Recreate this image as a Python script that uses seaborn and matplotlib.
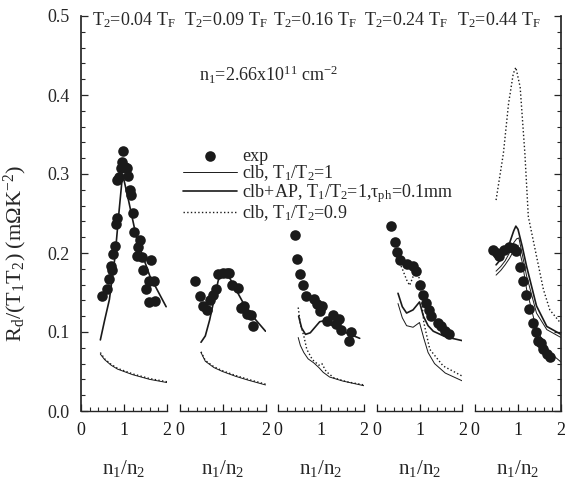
import numpy as np
import pandas as pd
import seaborn as sns
import matplotlib.pyplot as plt
from matplotlib.ticker import MultipleLocator

sns.set_theme(style="ticks")
plt.rcParams['font.family'] = ['Liberation Serif', 'DejaVu Serif']
plt.rcParams['mathtext.fontset'] = 'custom'
plt.rcParams['mathtext.rm'] = 'Liberation Serif'
plt.rcParams['mathtext.it'] = 'Liberation Serif:italic'
plt.rcParams['mathtext.default'] = 'regular'

# panel headers
temps = ["0.04", "0.09", "0.16", "0.24", "0.44"]

# experimental points, one pair of arrays per panel
exp_x1 = [0.48, 0.60, 0.66, 0.71, 0.70, 0.74, 0.79, 0.81, 0.84, 0.84, 0.89, 0.93, 0.95, 0.98, 1.02, 1.06,
          1.10, 1.14, 1.16, 1.20, 1.23, 1.37, 1.33, 1.30, 1.41, 1.62, 1.45, 1.57, 1.70, 1.51, 1.57, 1.72]
exp_y1 = [0.146, 0.154, 0.167, 0.179, 0.183, 0.199, 0.209, 0.237, 0.244, 0.292, 0.296, 0.307, 0.315, 0.329,
          0.309, 0.307, 0.298, 0.280, 0.274, 0.251, 0.226, 0.217, 0.208, 0.196, 0.195, 0.191, 0.178, 0.165,
          0.164, 0.154, 0.138, 0.139]
exp_x2 = [0.35, 0.47, 0.54, 0.64, 0.72, 0.77, 0.85, 0.90, 1.00, 1.10, 1.16, 1.23, 1.36, 1.43, 1.50, 1.58, 1.67, 1.72]
exp_y2 = [0.164, 0.145, 0.133, 0.128, 0.141, 0.147, 0.154, 0.174, 0.175, 0.175, 0.175, 0.160, 0.156, 0.131,
          0.133, 0.123, 0.122, 0.107]
exp_x3 = [0.39, 0.45, 0.52, 0.58, 0.65, 0.83, 0.90, 1.02, 0.98, 1.13, 1.27, 1.36, 1.43, 1.47, 1.70, 1.66]
exp_y3 = [0.223, 0.192, 0.174, 0.159, 0.146, 0.142, 0.136, 0.133, 0.126, 0.114, 0.121, 0.110, 0.116, 0.103,
          0.100, 0.089]
exp_x4 = [0.34, 0.42, 0.48, 0.55, 0.72, 0.84, 0.92, 1.01, 1.07, 1.15, 1.23, 1.26, 1.44, 1.49, 1.59, 1.69]
exp_y4 = [0.234, 0.214, 0.201, 0.191, 0.186, 0.184, 0.177, 0.160, 0.147, 0.137, 0.128, 0.120, 0.111, 0.107,
          0.101, 0.097]
exp_x5 = [0.41, 0.50, 0.56, 0.67, 0.79, 0.89, 0.95, 1.05, 1.11, 1.19, 1.26, 1.34, 1.42, 1.47, 1.53, 1.59, 1.67, 1.74]
exp_y5 = [0.204, 0.200, 0.196, 0.204, 0.207, 0.206, 0.203, 0.182, 0.164, 0.147, 0.129, 0.112, 0.100, 0.089,
          0.086, 0.078, 0.072, 0.068]

# clb+AP, T1/T2=1 (thick solid)
ap_x1 = [0.45, 0.55, 0.66, 0.79, 0.88, 0.95, 0.98, 1.03, 1.10, 1.30, 1.60, 1.98]
ap_y1 = [0.090, 0.115, 0.141, 0.195, 0.250, 0.290, 0.297, 0.285, 0.268, 0.217, 0.171, 0.132]
ap_x2 = [0.5, 0.6, 0.7, 0.8, 0.9, 1.0, 1.1, 1.3, 1.5, 1.7, 2.0]
ap_y2 = [0.087, 0.095, 0.115, 0.140, 0.165, 0.178, 0.175, 0.155, 0.135, 0.120, 0.101]
ap_x3 = [0.48, 0.55, 0.64, 0.75, 0.86, 0.97, 1.05, 1.2, 1.5, 1.9]
ap_y3 = [0.120, 0.105, 0.097, 0.099, 0.106, 0.113, 0.114, 0.110, 0.101, 0.092]
ap_x4 = [0.5, 0.6, 0.7, 0.85, 1.0, 1.09, 1.2, 1.32, 1.6, 2.0]
ap_y4 = [0.149, 0.132, 0.124, 0.128, 0.138, 0.120, 0.108, 0.101, 0.094, 0.089]
ap_x5 = [0.49, 0.6, 0.7, 0.8, 0.9, 0.95, 1.0, 1.1, 1.2, 1.43, 1.67, 2.0]
ap_y5 = [0.185, 0.192, 0.200, 0.212, 0.228, 0.234, 0.230, 0.208, 0.183, 0.133, 0.107, 0.097]

# clb, T1/T2=1 (thin solid)
clb_x1 = [0.45, 0.55, 0.7, 0.85, 1.0, 1.2, 1.4, 1.6, 1.8, 2.0]
clb_y1 = [0.072, 0.065, 0.058, 0.053, 0.050, 0.046, 0.043, 0.040, 0.038, 0.036]
clb_x2 = [0.5, 0.6, 0.8, 1.0, 1.3, 1.6, 2.0]
clb_y2 = [0.074, 0.063, 0.055, 0.050, 0.044, 0.039, 0.033]
clb_x3 = [0.47, 0.52, 0.6, 0.7, 0.83, 0.95, 1.05, 1.2, 1.5, 2.0]
clb_y3 = [0.093, 0.083, 0.074, 0.066, 0.061, 0.055, 0.049, 0.043, 0.038, 0.032]
clb_x4 = [0.5, 0.6, 0.7, 0.85, 1.0, 1.1, 1.2, 1.35, 1.6, 2.0]
clb_y4 = [0.136, 0.118, 0.108, 0.106, 0.112, 0.092, 0.074, 0.060, 0.048, 0.038]
clb_x5 = [0.49, 0.6, 0.7, 0.8, 0.9, 0.97, 1.02, 1.1, 1.2, 1.43, 1.67, 2.0]
clb_y5 = [0.177, 0.183, 0.190, 0.200, 0.213, 0.218, 0.219, 0.198, 0.171, 0.124, 0.103, 0.093]
# extra solid curve in the last panel
alt_x5 = [0.49, 0.6, 0.7, 0.8, 0.9, 1.0, 1.1, 1.2, 1.43, 1.74, 2.0]
alt_y5 = [0.172, 0.178, 0.185, 0.193, 0.203, 0.210, 0.188, 0.154, 0.103, 0.074, 0.062]

# clb, T1/T2=0.9 (dotted)
c09_x1 = [0.45, 0.55, 0.7, 0.85, 1.0, 1.2, 1.4, 1.6, 1.8, 2.0]
c09_y1 = [0.074, 0.066, 0.059, 0.054, 0.051, 0.047, 0.044, 0.041, 0.039, 0.037]
c09_x2 = [0.5, 0.6, 0.8, 1.0, 1.3, 1.6, 2.0]
c09_y2 = [0.075, 0.064, 0.056, 0.051, 0.045, 0.040, 0.034]
c09_x3 = [0.47, 0.52, 0.60, 0.67, 0.8, 0.95, 1.02, 1.12, 1.3, 1.6, 2.0]
c09_y3 = [0.131, 0.110, 0.095, 0.078, 0.065, 0.058, 0.060, 0.050, 0.042, 0.037, 0.033]
c09_x4 = [0.5, 0.6, 0.7, 0.77, 0.85, 0.95, 1.02, 1.10, 1.24, 1.55, 2.0]
c09_y4 = [0.192, 0.180, 0.166, 0.159, 0.170, 0.180, 0.160, 0.112, 0.078, 0.057, 0.044]
c09_x5 = [0.49, 0.66, 0.78, 0.89, 0.95, 1.05, 1.16, 1.24, 1.40, 1.59, 1.74, 1.98]
c09_y5 = [0.267, 0.326, 0.389, 0.427, 0.435, 0.410, 0.326, 0.246, 0.204, 0.154, 0.128, 0.112]

exps = [(exp_x1, exp_y1), (exp_x2, exp_y2), (exp_x3, exp_y3), (exp_x4, exp_y4), (exp_x5, exp_y5)]
aps = [(ap_x1, ap_y1), (ap_x2, ap_y2), (ap_x3, ap_y3), (ap_x4, ap_y4), (ap_x5, ap_y5)]
clbs = [(clb_x1, clb_y1), (clb_x2, clb_y2), (clb_x3, clb_y3), (clb_x4, clb_y4), (clb_x5, clb_y5)]
c09s = [(c09_x1, c09_y1), (c09_x2, c09_y2), (c09_x3, c09_y3), (c09_x4, c09_y4), (c09_x5, c09_y5)]

FS = 13
W, H = 566, 478
fig = plt.figure(figsize=(W / 100, H / 100), dpi=100)
fig.patch.set_facecolor('white')

axes = []
for i in range(5):
    left = (81 + i * 98.5) / W
    ax = fig.add_axes([left, (H - 411) / H, 86 / W, 395 / H])
    ax.set_facecolor('white')
    axes.append(ax)

handles = {}
for i, ax in enumerate(axes):
    sns.lineplot(x=clbs[i][0], y=clbs[i][1], ax=ax, color='k', lw=0.7, sort=False, estimator=None)
    handles['clb'] = ax.lines[-1]
    sns.lineplot(x=aps[i][0], y=aps[i][1], ax=ax, color='k', lw=1.2, sort=False, estimator=None)
    handles['ap'] = ax.lines[-1]
    sns.lineplot(x=c09s[i][0], y=c09s[i][1], ax=ax, color='k', lw=1.0, linestyle=':',
                 sort=False, estimator=None)
    handles['c09'] = ax.lines[-1]
    if i == 4:
        sns.lineplot(x=alt_x5, y=alt_y5, ax=ax, color='k', lw=0.7, sort=False, estimator=None)
    sns.scatterplot(x=exps[i][0], y=exps[i][1], ax=ax, color='k', s=58, linewidth=0, zorder=3)
    if i == 0:
        handles['exp'] = ax.collections[-1]

    ax.set_xlim(0, 2)
    ax.set_ylim(0, 0.5)
    ax.xaxis.set_major_locator(MultipleLocator(1))
    ax.xaxis.set_minor_locator(MultipleLocator(0.2))
    ax.yaxis.set_major_locator(MultipleLocator(0.1))
    ax.yaxis.set_minor_locator(MultipleLocator(0.02))
    for s in ['top', 'left', 'right']:
        ax.spines[s].set_visible(False)
    ax.spines['bottom'].set_linewidth(1.0)
    ax.tick_params(axis='x', which='major', direction='in', length=5, width=0.9, pad=8,
                   labelsize=FS, colors='k')
    ax.tick_params(axis='x', which='minor', direction='in', length=3, width=0.8)
    ax.set_xticks([0, 1, 2])
    ax.set_xticklabels(['0', '1', '2'])
    ax.set_xlabel(r'n$_1$/n$_2$', fontsize=15)
    ax.xaxis.set_label_coords(0.5, -0.145)
    ax.xaxis.label.set_va('center')
    if i == 0:
        ax.spines['left'].set_visible(True)
        ax.tick_params(axis='y', which='major', direction='in', length=5, width=0.9, pad=8,
                       labelsize=FS, left=True, right=False)
        ax.tick_params(axis='y', which='minor', direction='in', length=3, width=0.8, left=True)
        ax.set_yticklabels([f"{v:.1f}" for v in ax.get_yticks()])
        ax.set_ylabel(r'R$_d$/(T$_1$T$_2$) (m$\Omega$K$^{-2}$)', fontsize=16)
        ax.yaxis.set_label_coords(-0.76, 0.40)
        ax.yaxis.label.set_va('center')
    elif i == 4:
        ax.spines['right'].set_visible(True)
        ax.yaxis.set_ticks_position('right')
        ax.tick_params(axis='y', which='major', direction='in', length=5, width=0.9,
                       labelright=False, labelleft=False)
        ax.tick_params(axis='y', which='minor', direction='in', length=3, width=0.8)
        ax.set_ylabel('')
    else:
        ax.tick_params(axis='y', which='both', left=False, right=False, labelleft=False)
        ax.set_ylabel('')

# headers along the top
title_x = [92, 184, 273, 364, 457]
for tx, t in zip(title_x, temps):
    fig.text(tx / W, 1 - 20 / H, r'T$_2$=' + t + r' T$_F$', fontsize=FS, ha='left', va='center')

fig.text(199 / W, 1 - 75 / H, r'n$_1$=2.66x10$^{11}$ cm$^{-2}$', fontsize=FS, ha='left', va='center')

fig.legend([handles['exp'], handles['clb'], handles['ap'], handles['c09']],
           ['exp', r'clb, T$_1$/T$_2$=1', r'clb+AP, T$_1$/T$_2$=1,$\tau_{ph}$=0.1mm', r'clb, T$_1$/T$_2$=0.9'],
           loc='upper left', bbox_to_anchor=(183 / W, 1 - 148 / H), frameon=False, fontsize=FS,
           handlelength=3.0, handletextpad=0.28, borderpad=0, borderaxespad=0, labelspacing=-0.08,
           scatterpoints=1)

fig.savefig('out.png', dpi=100, facecolor='white')
